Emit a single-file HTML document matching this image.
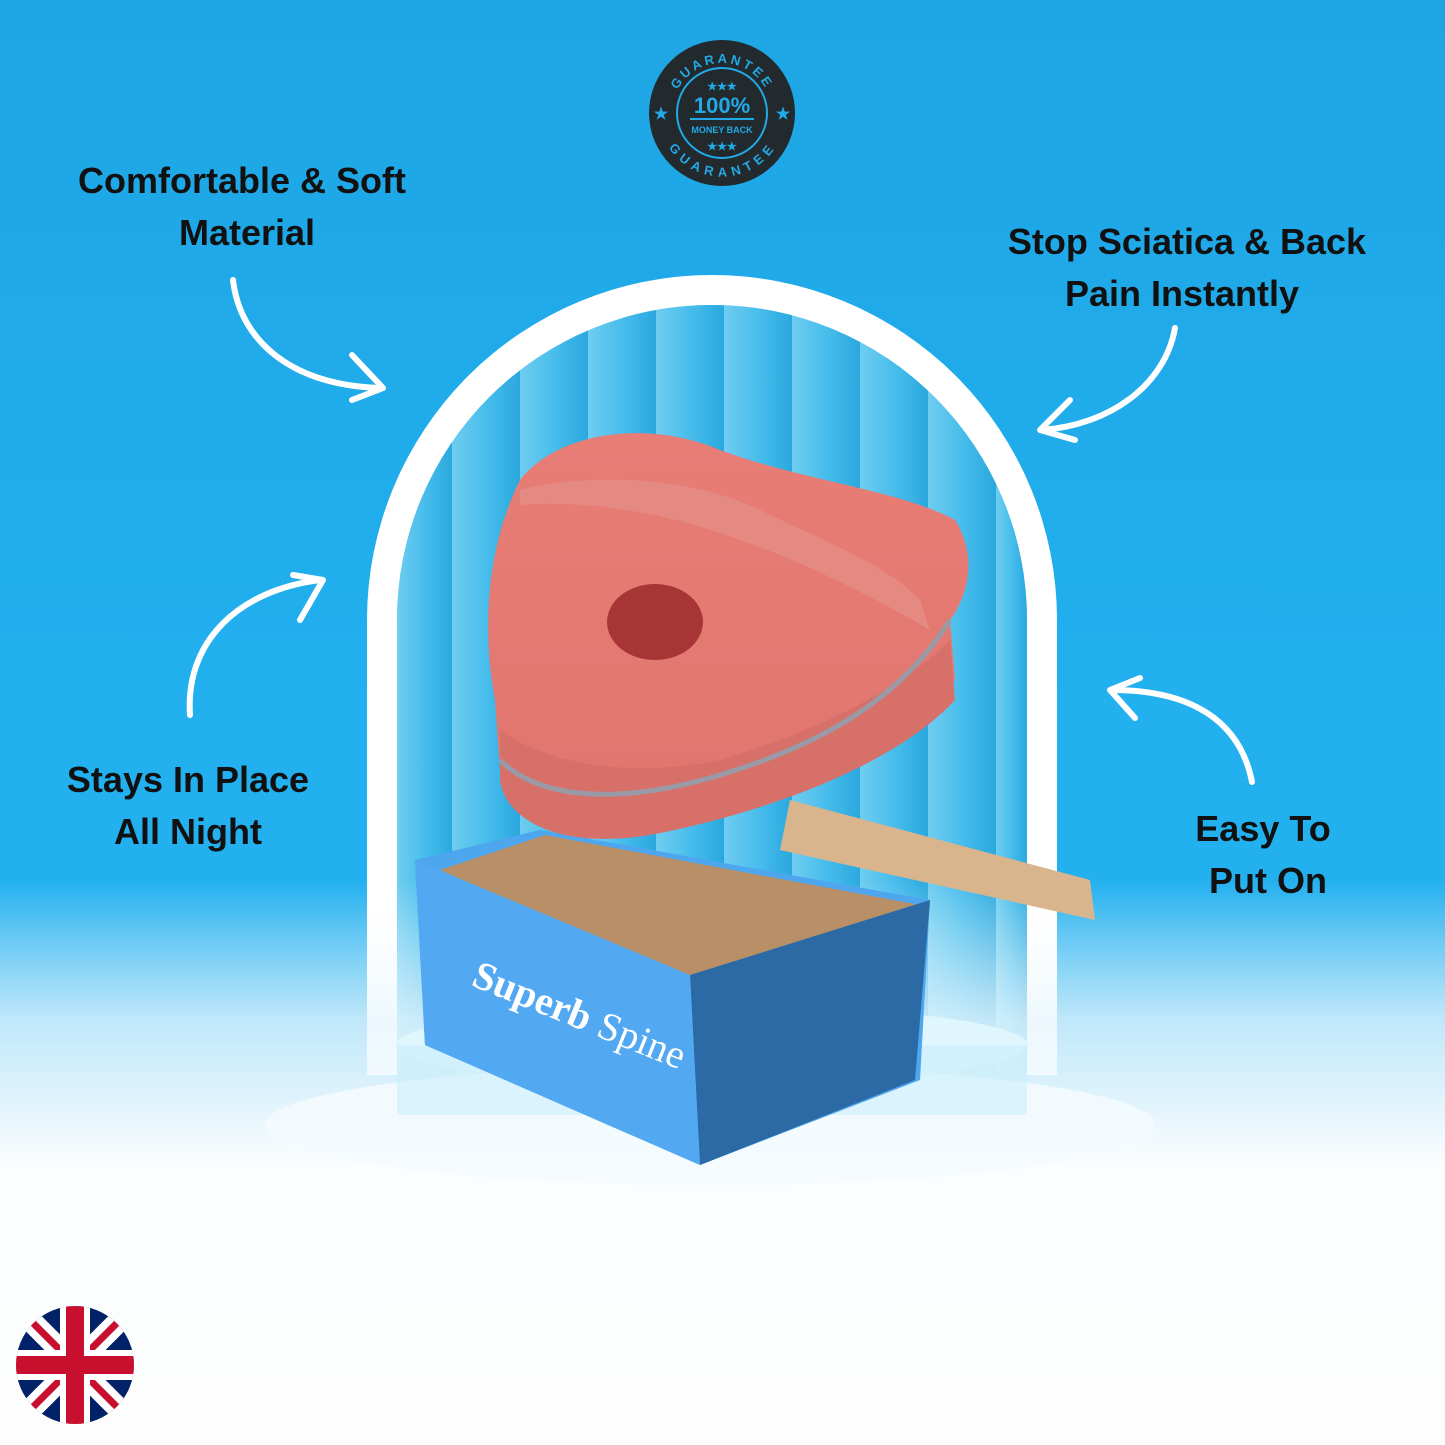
<!DOCTYPE html>
<html><head><meta charset="utf-8"><style>
html,body{margin:0;padding:0;width:1445px;height:1445px;overflow:hidden}
svg{display:block}
text{font-family:"Liberation Sans",sans-serif;font-weight:bold}
</style></head><body>
<svg width="1445" height="1445" viewBox="0 0 1445 1445" xmlns="http://www.w3.org/2000/svg">
<defs>
<linearGradient id="bg" x1="0" y1="0" x2="0" y2="1">
<stop offset="0" stop-color="#1ea5e4"/><stop offset="0.5" stop-color="#22b0ef"/><stop offset="1" stop-color="#22b0ef"/>
</linearGradient>
<linearGradient id="cloud" x1="0" y1="0" x2="0" y2="1">
<stop offset="0" stop-color="#ffffff" stop-opacity="0"/><stop offset="0.25" stop-color="#e8f6fd" stop-opacity="0.8"/><stop offset="0.5" stop-color="#fbfdfe"/><stop offset="1" stop-color="#fdfdfd"/>
</linearGradient>
<linearGradient id="stripes" x1="0" y1="0" x2="1" y2="0">
<stop offset="0" stop-color="#6fcdf0"/><stop offset="0.5" stop-color="#48bdec"/><stop offset="1" stop-color="#2aa8de"/>
</linearGradient>
<linearGradient id="pink" x1="0" y1="0" x2="0" y2="1">
<stop offset="0" stop-color="#e87d76"/><stop offset="1" stop-color="#e0756e"/>
</linearGradient>
<clipPath id="arch"><path d="M397 1075 V620 A315 315 0 0 1 1027 620 V1075 Z"/></clipPath>
<clipPath id="flag"><circle cx="75" cy="1365" r="59"/></clipPath>
<path id="tp" d="M672 113 A50 50 0 0 1 772 113"/>
<path id="bp" d="M668 113 A54 54 0 0 0 776 113"/>
</defs>
<rect width="1445" height="1445" fill="url(#bg)"/>
<path d="M367 1075 V620 A345 345 0 0 1 1057 620 V1075 Z" fill="#ffffff"/>
<g clip-path="url(#arch)">
<rect x="397" y="270" width="630" height="810" fill="#3bb4e8"/>
<g fill="url(#stripes)">
<rect x="397" y="270" width="55" height="810"/><rect x="452" y="270" width="68" height="810"/>
<rect x="520" y="270" width="68" height="810"/><rect x="588" y="270" width="68" height="810"/>
<rect x="656" y="270" width="68" height="810"/><rect x="724" y="270" width="68" height="810"/>
<rect x="792" y="270" width="68" height="810"/><rect x="860" y="270" width="68" height="810"/>
<rect x="928" y="270" width="68" height="810"/><rect x="996" y="270" width="31" height="810"/>
</g>
</g>
<rect x="0" y="880" width="1445" height="565" fill="url(#cloud)"/>
<ellipse cx="710" cy="1125" rx="445" ry="60" fill="#f4fbfe" opacity="0.9"/>
<ellipse cx="712" cy="1045" rx="316" ry="40" fill="#dff6fd"/>
<rect x="397" y="1045" width="630" height="70" fill="#c9eefb" opacity="0.6"/>
<path d="M790 800 L1090 880 L1095 920 L780 850 Z" fill="#d9b58e"/>
<path d="M415 860 L540 830 L930 900 L920 1080 L700 1165 L425 1045 Z" fill="#4ea6ef"/>
<path d="M440 870 L545 835 L920 905 L700 985 Z" fill="#b88f66"/>
<path d="M690 975 L930 900 L915 1080 L700 1165 Z" fill="#2c6aa6"/>
<path d="M415 860 L690 975 L700 1165 L425 1045 Z" fill="#52a9f2"/>
<text x="470" y="985" fill="#ffffff" font-size="40" transform="rotate(22 470 985)" style="font-family:'Liberation Serif',serif">Superb <tspan font-weight="normal">Spine</tspan></text>
<path d="M520 480 C560 430 650 420 720 450 C800 480 900 490 955 520 C980 560 965 600 950 620 L955 680 C900 740 780 790 640 820 C570 840 510 820 500 770 L495 700 C480 620 490 540 520 480 Z" fill="url(#pink)"/>
<path d="M500 730 C540 760 620 780 720 760 C820 730 900 690 950 640 L955 700 C900 760 780 810 650 835 C560 850 505 820 500 780 Z" fill="#d8706a"/>
<path d="M500 760 C540 800 620 805 720 775 C820 745 900 700 950 620" fill="none" stroke="#9a9aa6" stroke-width="5"/>
<path d="M520 490 C600 470 700 480 760 510 C820 540 880 560 920 600 L930 630 C880 600 800 560 740 540 C660 510 580 500 520 505 Z" fill="#e58a82"/>
<ellipse cx="655" cy="622" rx="48" ry="38" fill="#a83535"/>
<g font-size="36" fill="#111" text-anchor="middle">
<text x="242" y="193">Comfortable &amp; Soft</text>
<text x="247" y="245">Material</text>
<text x="1187" y="254">Stop Sciatica &amp; Back</text>
<text x="1182" y="306">Pain Instantly</text>
<text x="188" y="792">Stays In Place</text>
<text x="188" y="844">All Night</text>
<text x="1263" y="841">Easy To</text>
<text x="1268" y="893">Put On</text>
</g>
<g fill="none" stroke="#fff" stroke-width="6" stroke-linecap="round" stroke-linejoin="round">
<path d="M233 280 C240 340 290 385 380 388"/><path d="M352 355 L383 388 L352 400"/>
<path d="M1175 328 C1165 385 1110 425 1042 430"/><path d="M1070 400 L1040 430 L1075 440"/>
<path d="M190 715 C185 640 240 590 320 580"/><path d="M293 575 L323 580 L300 620"/>
<path d="M1252 782 C1240 720 1190 690 1112 690"/><path d="M1140 678 L1110 690 L1135 718"/>
</g>
<circle cx="722" cy="113" r="73" fill="#222a2d"/>
<circle cx="722" cy="113" r="45" fill="none" stroke="#22a9e8" stroke-width="2"/>
<text font-size="13" fill="#22a9e8" letter-spacing="3"><textPath href="#tp" startOffset="50%" text-anchor="middle">GUARANTEE</textPath></text>
<text font-size="13" fill="#22a9e8" letter-spacing="3"><textPath href="#bp" startOffset="50%" text-anchor="middle" dominant-baseline="hanging">GUARANTEE</textPath></text>
<text x="722" y="113" font-size="22" fill="#22a9e8" text-anchor="middle">100%</text>
<rect x="690" y="118" width="64" height="2" fill="#22a9e8"/>
<text x="722" y="133" font-size="9" font-weight="normal" fill="#22a9e8" text-anchor="middle">MONEY BACK</text>
<text x="722" y="90" font-size="11" fill="#22a9e8" text-anchor="middle">★★★</text>
<text x="722" y="150" font-size="11" fill="#22a9e8" text-anchor="middle">★★★</text>
<text x="661" y="119" font-size="16" fill="#22a9e8" text-anchor="middle">★</text>
<text x="783" y="119" font-size="16" fill="#22a9e8" text-anchor="middle">★</text>
<g clip-path="url(#flag)">
<rect x="16" y="1306" width="118" height="118" fill="#012169"/>
<path d="M16 1306 L134 1424 M134 1306 L16 1424" stroke="#fff" stroke-width="22"/>
<path d="M16 1306 L134 1424 M134 1306 L16 1424" stroke="#c8102e" stroke-width="7"/>
<rect x="60" y="1306" width="30" height="118" fill="#fff"/>
<rect x="16" y="1350" width="118" height="30" fill="#fff"/>
<rect x="66" y="1306" width="18" height="118" fill="#c8102e"/>
<rect x="16" y="1356" width="118" height="18" fill="#c8102e"/>
</g>
</svg>
</body></html>
